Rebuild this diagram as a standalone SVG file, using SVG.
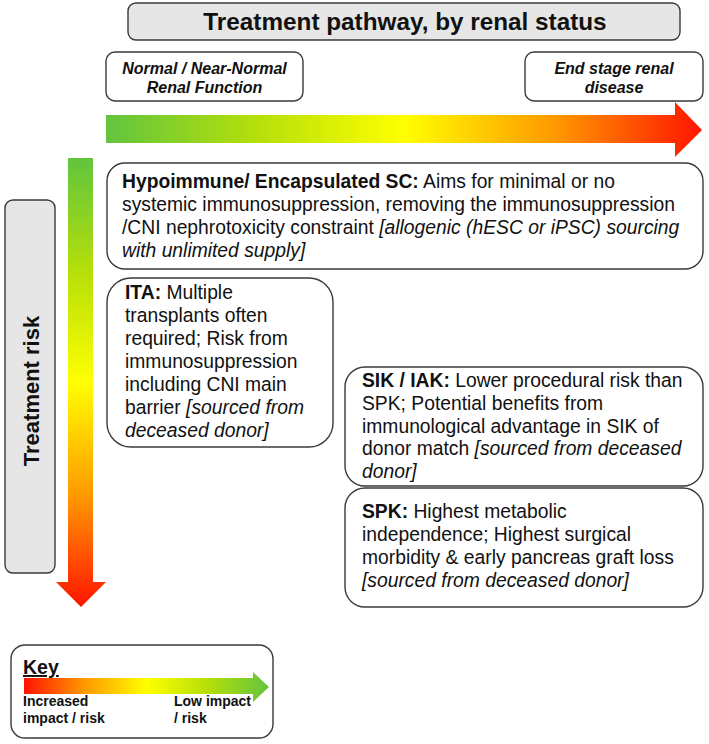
<svg xmlns="http://www.w3.org/2000/svg" width="709" height="744" viewBox="0 0 709 744">
<defs>
<linearGradient id="gH" x1="0" y1="0" x2="1" y2="0">
<stop offset="0" stop-color="#62c43e"/><stop offset="0.25" stop-color="#b4df0a"/><stop offset="0.5" stop-color="#ffff00"/><stop offset="0.75" stop-color="#ff9a00"/><stop offset="1" stop-color="#ff1400"/>
</linearGradient>
<linearGradient id="gV" x1="0" y1="0" x2="0" y2="1">
<stop offset="0" stop-color="#62c43e"/><stop offset="0.25" stop-color="#b4df0a"/><stop offset="0.5" stop-color="#ffff00"/><stop offset="0.75" stop-color="#ff9a00"/><stop offset="1" stop-color="#ff1400"/>
</linearGradient>
<linearGradient id="gK" x1="0" y1="0" x2="1" y2="0">
<stop offset="0" stop-color="#ff1400"/><stop offset="0.25" stop-color="#ff9a00"/><stop offset="0.5" stop-color="#ffff00"/><stop offset="0.75" stop-color="#b4df0a"/><stop offset="1" stop-color="#62c43e"/>
</linearGradient>
</defs>
<style>
.box{fill:#fff;stroke:#3a3a3a;stroke-width:1.4}
.gbox{fill:#e6e6e6;stroke:#3a3a3a;stroke-width:1.4}
text{font-family:"Liberation Sans",Arial,sans-serif;fill:#111}
.t{font-size:19.3px}
.hd{font-size:16px;font-weight:bold;font-style:italic;text-anchor:middle}
.b{font-weight:bold}
.i{font-style:italic}
.k{font-size:14px;font-weight:bold}
</style>
<rect width="709" height="744" fill="#fff"/>
<g id="axes">
<path d="M106,115 H675 V102 L702,130 L675,157 V143 H106 Z" fill="url(#gH)"/>
<path d="M68,158 H93 V582 H106 L81,607 L56,582 H68 Z" fill="url(#gV)"/>
</g>
<g id="title">
<rect class="gbox" x="128" y="3" width="552" height="37" rx="8"/>
<text x="405" y="30" font-size="24.3" font-weight="bold" text-anchor="middle">Treatment pathway, by renal status</text>
</g>
<g id="normal">
<rect class="box" x="106" y="52" width="197" height="49" rx="9"/>
<text class="hd" x="204.5" y="74">Normal / Near-Normal</text>
<text class="hd" x="204.5" y="93">Renal Function</text>
</g>
<g id="esrd">
<rect class="box" x="525" y="52" width="178" height="49" rx="9"/>
<text class="hd" x="614" y="74">End stage renal</text>
<text class="hd" x="614" y="93">disease</text>
</g>
<g id="risk">
<rect class="gbox" x="5" y="200" width="50" height="373" rx="8"/>
<text transform="translate(39,391) rotate(-90)" font-size="22" font-weight="bold" text-anchor="middle">Treatment risk</text>
</g>
<g id="hypoimmune">
<rect class="box" x="107" y="163" width="596" height="106" rx="18"/>
<text class="t" x="122" y="188"><tspan class="b">Hypoimmune/ Encapsulated SC:</tspan> Aims for minimal or no</text>
<text class="t" x="122" y="211">systemic immunosuppression, removing the immunosuppression</text>
<text class="t" x="122" y="234">/CNI nephrotoxicity constraint <tspan class="i">[allogenic (hESC or iPSC) sourcing</tspan></text>
<text class="t i" x="122" y="257">with unlimited supply]</text>
</g>
<g id="ita">
<rect class="box" x="107" y="278" width="226" height="169" rx="24"/>
<text class="t" x="125" y="299"><tspan class="b">ITA:</tspan> Multiple</text>
<text class="t" x="125" y="322">transplants often</text>
<text class="t" x="125" y="345">required; Risk from</text>
<text class="t" x="125" y="368">immunosuppression</text>
<text class="t" x="125" y="391">including CNI main</text>
<text class="t" x="125" y="414">barrier <tspan class="i">[sourced from</tspan></text>
<text class="t i" x="125" y="437">deceased donor]</text>
</g>
<g id="sik">
<rect class="box" x="345" y="367" width="358" height="119" rx="20"/>
<text class="t" x="362" y="387"><tspan class="b">SIK / IAK:</tspan> Lower procedural risk than</text>
<text class="t" x="362" y="410">SPK; Potential benefits from</text>
<text class="t" x="362" y="433">immunological advantage in SIK of</text>
<text class="t" x="362" y="455">donor match <tspan class="i">[sourced from deceased</tspan></text>
<text class="t i" x="362" y="478">donor]</text>
</g>
<g id="spk">
<rect class="box" x="345" y="488" width="358" height="119" rx="20"/>
<text class="t" x="362" y="518"><tspan class="b">SPK:</tspan> Highest metabolic</text>
<text class="t" x="362" y="541">independence; Highest surgical</text>
<text class="t" x="362" y="564">morbidity &amp; early pancreas graft loss</text>
<text class="t i" x="362" y="587">[sourced from deceased donor]</text>
</g>
<g id="key">
<rect class="box" x="11" y="645" width="262" height="93" rx="14"/>
<text x="23" y="674" font-size="19.5" font-weight="bold" text-decoration="underline">Key</text>
<path d="M24,678 H253 V672 L269,687 L253,702 V694 H24 Z" fill="url(#gK)"/>
<text class="k" x="23" y="706">Increased</text>
<text class="k" x="23" y="723">impact / risk</text>
<text class="k" x="174" y="706">Low impact</text>
<text class="k" x="174" y="723">/ risk</text>
</g>
</svg>
